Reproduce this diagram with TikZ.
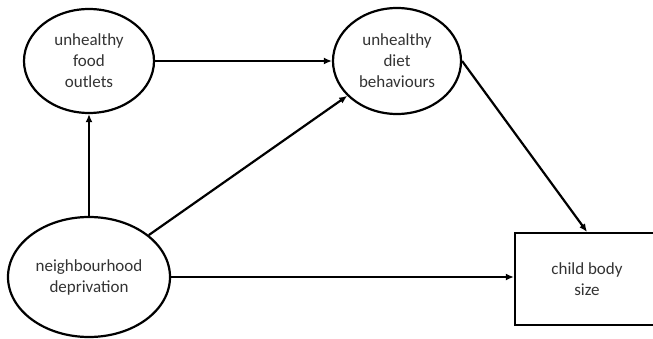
\documentclass[tikz,border=0pt]{standalone}
\usepackage{fontspec}
\setmainfont{Carlito}
\usetikzlibrary{shapes.geometric,arrows.meta}
\definecolor{txtgray}{HTML}{333333}
\tikzset{
  latent/.style={ellipse, draw=black, line width=2.2pt, inner sep=0pt, align=center,
    font=\fontsize{17}{21}\selectfont, text=txtgray},
  observed/.style={rectangle, draw=black, line width=2.2pt, inner sep=0pt, align=center,
    font=\fontsize{17}{21}\selectfont, text=txtgray},
  path/.style={line width=2.2pt, -{Latex[length=8pt,width=7pt]}}
}
\begin{document}
\begin{tikzpicture}[x=1pt,y=-1pt]
\useasboundingbox (0,0) rectangle (653,339);
\fill[white] (0,0) rectangle (653,339);
\clip (0,0) rectangle (653,339);
\node[latent, minimum width=130pt, minimum height=104pt] (food) at (89,61) {unhealthy\\food\\outlets};
\node[latent, minimum width=128pt, minimum height=106pt] (diet) at (397,61) {unhealthy\\diet\\behaviours};
\node[latent, minimum width=162pt, minimum height=120pt] (dep) at (89,277) {neighbourhood\\deprivation};
\node[observed, minimum width=144pt, minimum height=92pt] (child) at (587,279) {child body\\size};
\draw[path] (food.east) -- (diet.west);
\draw[path] (dep.north) -- (food.south);
\draw[path] (dep) -- (diet);
\draw[path] (diet.east) -- (child.north);
\draw[path] (dep.east) -- (dep.east -| child.west);
\end{tikzpicture}
\end{document}
